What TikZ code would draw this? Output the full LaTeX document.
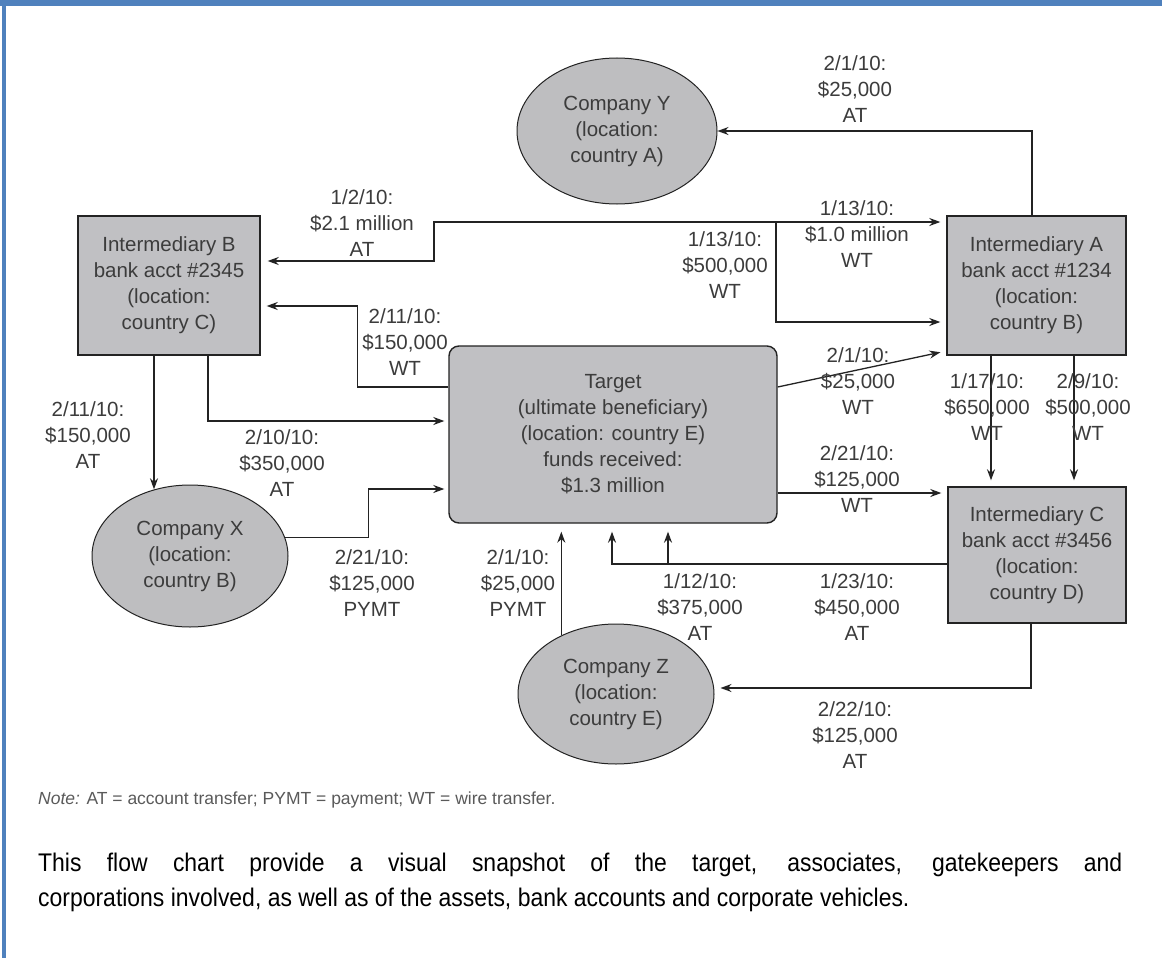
\documentclass[tikz,border=0pt]{standalone}
\usepackage{fontspec}
\setmainfont{Liberation Sans}
\newfontfamily\narrowsans[FakeStretch=0.9]{Liberation Sans}
\usetikzlibrary{arrows.meta,shapes.geometric}
\definecolor{frameblue}{RGB}{79,129,189}
\definecolor{boxgray}{RGB}{192,192,195}
\definecolor{ellgray}{RGB}{190,190,192}
\definecolor{linec}{RGB}{35,35,35}
\definecolor{txtc}{RGB}{60,60,60}
\definecolor{notec}{RGB}{90,90,90}
\begin{document}
\begin{tikzpicture}[x=1pt,y=-1pt,
  labfont/.style={font=\fontsize{20.5}{26}\selectfont},
  lab/.style={labfont, text=txtc, align=center, inner sep=0pt},
  rbox/.style={rectangle, draw=linec, line width=1.4pt, fill=boxgray, align=center, inner sep=0pt, labfont, text=txtc},
  ell/.style={ellipse, draw=linec, line width=1pt, fill=ellgray, align=center, inner sep=0pt, labfont, text=txtc},
  conn/.style={draw=linec, line width=1.3pt},
  arr/.style={conn, -{Stealth[length=11pt,width=8pt]}},
  arrb/.style={arr, shorten >=6pt},
  arrs/.style={arr, shorten >=4pt},
  arrt/.style={arr, shorten >=8pt}
]
\useasboundingbox (0,0) rectangle (1162,958);
\fill[white] (0,0) rectangle (1162,958);
\fill[frameblue] (0,0) rectangle (1162,6);
\fill[frameblue] (2,0) rectangle (6,958);

% nodes
\node[rbox, minimum width=182pt, minimum height=139pt] (B) at (169,285.5) {Intermediary B\\bank acct \#2345\\(location:\\country C)};
\node[rbox, minimum width=179pt, minimum height=139pt] (A) at (1036.5,285.5) {Intermediary A\\bank acct \#1234\\(location:\\country B)};
\node[rbox, minimum width=178pt, minimum height=136pt] (C) at (1037,555) {Intermediary C\\bank acct \#3456\\(location:\\country D)};
\node[rbox, rounded corners=10pt, minimum width=328pt, minimum height=177pt] (T) at (613,434.5) {Target\\(ultimate beneficiary)\\(location: country E)\\funds received:\\\$1.3 million};
\node[ell, minimum width=200pt, minimum height=146pt] (Y) at (617,131) {Company Y\\(location:\\country A)};
\node[ell, minimum width=196pt, minimum height=142pt] (X) at (190,556) {Company X\\(location:\\country B)};
\node[ell, minimum width=196pt, minimum height=140pt] (Z) at (616,694) {Company Z\\(location:\\country E)};

% helper coordinates
\coordinate (j1) at (434,222);
\coordinate (j2) at (776,222);
\coordinate (j3) at (668,564);
\coordinate (bx) at ([xshift=-15pt]B.south);
\coordinate (zt) at (Z.133.5);

% connectors
\draw[arr] ([xshift=-4.5pt]A.north) |- (Y.east);
\draw[conn, {Stealth[length=11pt,width=8pt]}-{Stealth[length=11pt,width=8pt]}, shorten <=7pt, shorten >=6pt]
  ([yshift=24.5pt]B.east) -| (j1) -- (j1 -| A.west);
\draw[arrb] (j2) |- ([yshift=-36.5pt]A.west);
\draw[arrb] ([yshift=47.5pt]T.east) -- ([yshift=-65.5pt]A.west);
\draw[arrb] ([yshift=-58.5pt]T.east) -- ([yshift=62pt]C.west);
\draw[arrb] ([xshift=-45.5pt]A.south) -- ([xshift=-46pt]C.north);
\draw[arrb] ([xshift=37.5pt]A.south) -- ([xshift=37pt]C.north);
\draw[arrt] ([yshift=-9pt]C.west) -| ([xshift=-1pt]T.south);
\draw[arrt] (j3) -- (j3 |- T.south);
\draw[arrt] (zt) -- (zt |- T.south);
\draw[arrb] ([xshift=-6pt]C.south) |- ([yshift=6pt]Z.east);
\draw[arr] (bx) -- (bx |- X.118.6);
\draw[arrs] ([xshift=39pt]B.south) |- ([yshift=13.5pt]T.west);
\draw[arrb] ([yshift=47.5pt]T.west) -- ++(-91,0) |- ([yshift=-20.5pt]B.east);
\draw[arrs] (X.11.4) -- ++(83,0) |- ([yshift=-54.5pt]T.west);

% labels
\node[lab] (l1) at (855,89) {2/1/10:\\\$25,000\\AT};
\node[lab] (l2) at (362,223) {1/2/10:\\\$2.1 million\\AT};
\node[lab] (l3) at (857,234) {1/13/10:\\\$1.0 million\\WT};
\node[lab] (l4) at (725,265) {1/13/10:\\\$500,000\\WT};
\node[lab] (l5) at (405,342) {2/11/10:\\\$150,000\\WT};
\node[lab] (l6) at (858,381) {2/1/10:\\\$25,000\\WT};
\node[lab] (l7) at (987,407) {1/17/10:\\\$650,000\\WT};
\node[lab] (l8) at (1088,407) {2/9/10:\\\$500,000\\WT};
\node[lab] (l9) at (857,479) {2/21/10:\\\$125,000\\WT};
\node[lab] (l10) at (88,435) {2/11/10:\\\$150,000\\AT};
\node[lab] (l11) at (282,463) {2/10/10:\\\$350,000\\AT};
\node[lab] (l12) at (372,583) {2/21/10:\\\$125,000\\PYMT};
\node[lab] (l13) at (518,583) {2/1/10:\\\$25,000\\PYMT};
\node[lab] (l14) at (700,607) {1/12/10:\\\$375,000\\AT};
\node[lab] (l15) at (857,607) {1/23/10:\\\$450,000\\AT};
\node[lab] (l16) at (855,735) {2/22/10:\\\$125,000\\AT};

% note and paragraph
\node[anchor=base west, inner sep=0pt, text=notec, font=\fontsize{17.5}{20}\selectfont] (note) at (38,804) {\textit{Note:} AT = account transfer; PYMT = payment; WT = wire transfer.};
\node[anchor=base west, inner sep=0pt, font=\narrowsans\fontsize{25.5}{35}\selectfont] (para) at (38,871)
  {\parbox[t]{1084pt}{This flow chart provide a visual snapshot of the target, associates, gatekeepers and\linebreak corporations involved, as well as of the assets, bank accounts and corporate vehicles.}};
\end{tikzpicture}
\end{document}
